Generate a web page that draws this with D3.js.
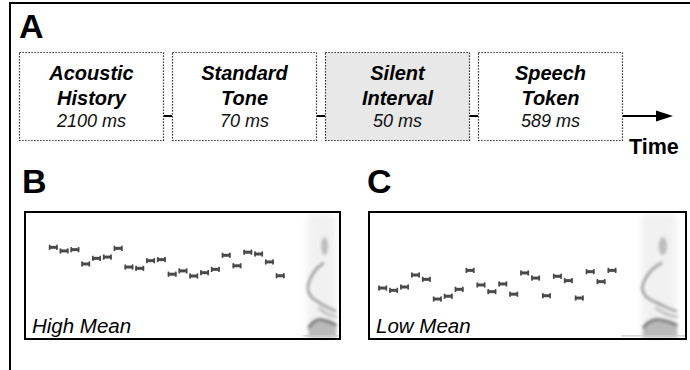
<!DOCTYPE html>
<html><head><meta charset="utf-8">
<script src="https://cdn.jsdelivr.net/npm/d3@7"></script>
<style>body{margin:0;background:#fff}svg{display:block;font-family:Arial,"Liberation Sans",Helvetica,sans-serif}</style>
</head><body><svg id="c" width="690" height="370"></svg>
<script>
// ---------- data ----------
const stageLine1 = ["Acoustic","Standard","Silent","Speech"];
const stageLine2 = ["History","Tone","Interval","Token"];
const stageDurationsMs = [2100, 70, 50, 589];
const silentStage = "Silent";
const panelLabels = ["A", "B", "C"];
const conditionNames = ["High Mean", "Low Mean"];
const toneOnsetsMs = [0,100,200,300,400,500,600,700,800,900,1000,1100,1200,1300,1400,1500,1600,1700,1800,1900,2000,2100];
const highMeanHz = [3600,3460,3510,2950,3170,3220,3560,2830,2780,3080,3120,2550,2680,2480,2610,2740,3290,2880,3410,3340,3030,2490];
const lowMeanHz  = [2010,1920,2050,2520,2350,1580,1690,1960,2700,2130,1870,2170,1770,2600,2400,1710,2470,2300,1620,2650,2260,2700];
// speech token (normalised time 0..1, frequency Hz)
const formantHigh = [[0.58,3000],[0.34,2760],[0.15,2400],[0.06,2000],[0.16,1680],[0.42,1450],[0.7,1250],[0.97,1100]];
const formantMid  = [[0.4,1250],[0.62,1050],[0.85,920],[1.0,880]];
const formantLow  = [[0.08,450],[0.25,690],[0.45,780],[0.7,710],[0.98,560]];
const burstTop    = [[0.6,3650]];

// ---------- layout ----------
const svg = d3.select("#c");
const defs = svg.append("defs");
function blur(id, sd){
  defs.append("filter").attr("id",id).attr("x","-50%").attr("y","-50%").attr("width","200%").attr("height","200%")
    .append("feGaussianBlur").attr("stdDeviation",sd);
}
blur("blur",1.5); blur("blur2",3); blur("soft",0.4);

// outer frame
svg.append("path").attr("d","M10,370V3H690").attr("fill","none").attr("stroke","#000").attr("stroke-width",2);

// panel letters
const letterPos = [[19,38],[22,193],[367,193]];
svg.selectAll("text.letter").data(panelLabels).join("text").attr("class","letter")
  .attr("x",(d,i)=>letterPos[i][0]).attr("y",(d,i)=>letterPos[i][1])
  .attr("font-size",34).attr("font-weight","bold").text(d=>d);

// ---------- panel A: trial structure ----------
const xStage = d3.scaleBand().domain(stageLine1).range([18,623]).paddingInner(0.055).round(true);
const boxTop = 52.5, boxBot = 140.5, connY = 116;
const gStage = svg.selectAll("g.stage").data(stageLine1).join("g").attr("class","stage")
  .attr("transform",d=>`translate(${xStage(d)},0)`);
gStage.append("rect").attr("x",0.5).attr("y",boxTop).attr("width",xStage.bandwidth()-1).attr("height",boxBot-boxTop)
  .attr("fill",d=>d===silentStage?"#e8e8e8":"#fff")
  .attr("stroke","#000").attr("stroke-width",1.2).attr("stroke-dasharray","1.2,1.8");
const cx = xStage.bandwidth()/2;
gStage.append("text").attr("x",cx).attr("y",80).attr("text-anchor","middle")
  .attr("font-size",20).attr("font-weight","bold").attr("font-style","italic").text(d=>d);
gStage.append("text").attr("x",cx).attr("y",105).attr("text-anchor","middle")
  .attr("font-size",20).attr("font-weight","bold").attr("font-style","italic").text((d,i)=>stageLine2[i]);
gStage.append("text").attr("x",cx).attr("y",127).attr("text-anchor","middle")
  .attr("font-size",18).attr("font-style","italic").attr("fill","#111").text((d,i)=>stageDurationsMs[i]+" ms");
// connectors
svg.selectAll("line.conn").data(stageLine1.slice(1)).join("line").attr("class","conn")
  .attr("x1",(d,i)=>xStage(stageLine1[i])+xStage.bandwidth()).attr("x2",d=>xStage(d))
  .attr("y1",connY).attr("y2",connY).attr("stroke","#000").attr("stroke-width",2);
// time arrow
const last = stageLine1[stageLine1.length-1];
const ax0 = xStage(last)+xStage.bandwidth(), ax1 = 673;
svg.append("line").attr("x1",ax0).attr("x2",ax1-12).attr("y1",connY).attr("y2",connY).attr("stroke","#000").attr("stroke-width",2);
svg.append("path").attr("d",`M${ax1-17},${connY-5.5}L${ax1},${connY}L${ax1-17},${connY+5.5}Z`).attr("fill","#000");
svg.append("text").attr("x",629).attr("y",154).attr("font-size",21.5).attr("font-weight","bold").text("Time");

// ---------- panels B & C ----------
const panels = [
  {name:conditionNames[0], hz:highMeanHz, x0:25, x1:340, t0:53.3, t1:280.2, s0:306, s1:337, base0:303},
  {name:conditionNames[1], hz:lowMeanHz,  x0:369, x1:686, t0:382.7, t1:612, s0:640, s1:678, base0:621}
];
const pTop = 212, pBot = 339;
const yHz = d3.scaleLinear().domain([0,5000]).range([339.5,211.5]);

panels.forEach((p,pi)=>{
  const g = svg.append("g");
  const clipId = "clip"+pi;
  defs.append("clipPath").attr("id",clipId).append("rect")
    .attr("x",p.x0+1).attr("y",pTop+1).attr("width",p.x1-p.x0-2).attr("height",pBot-pTop-2);
  const inner = g.append("g").attr("clip-path",`url(#${clipId})`);

  // speech token spectrogram
  const xs = d3.scaleLinear().domain([0,1]).range([p.s0,p.s1]);
  const sg = inner.append("g");
  sg.append("rect").attr("x",xs(0.03)).attr("y",yHz(4900)).attr("width",xs(0.97)-xs(0.03)).attr("height",yHz(0)-yHz(4900))
    .attr("fill","#000").attr("opacity",0.05).attr("filter","url(#blur2)");
  sg.append("line").attr("x1",xs(0.12)).attr("x2",xs(0.12)).attr("y1",yHz(4800)).attr("y2",yHz(100))
    .attr("stroke","#999").attr("stroke-width",3).attr("opacity",0.3).attr("filter","url(#blur)");
  sg.append("line").attr("x1",xs(0.62)).attr("x2",xs(0.62)).attr("y1",yHz(4700)).attr("y2",yHz(2900))
    .attr("stroke","#aaa").attr("stroke-width",5).attr("opacity",0.35).attr("filter","url(#blur)");
  sg.selectAll("ellipse").data(burstTop).join("ellipse")
    .attr("cx",d=>xs(d[0])).attr("cy",d=>yHz(d[1])).attr("rx",(xs(1)-xs(0))*0.11).attr("ry",9)
    .attr("fill","#888").attr("opacity",0.5).attr("filter","url(#blur)");
  const line = d3.line().x(d=>xs(d[0])).y(d=>yHz(d[1])).curve(d3.curveCatmullRom);
  sg.append("path").attr("d",line(formantHigh)).attr("fill","none").attr("stroke","#666").attr("stroke-width",2.4)
    .attr("opacity",0.65).attr("filter","url(#blur)");
  sg.append("path").attr("d",line(formantMid)).attr("fill","none").attr("stroke","#888").attr("stroke-width",3)
    .attr("opacity",0.45).attr("filter","url(#blur)");
  const area = d3.area().x(d=>xs(d[0])).y0(yHz(80)).y1(d=>yHz(d[1])).curve(d3.curveCatmullRom);
  sg.append("path").attr("d",area(formantLow)).attr("fill","#777").attr("opacity",0.45).attr("filter","url(#blur)");
  sg.append("path").attr("d",line(formantLow)).attr("fill","none").attr("stroke","#444").attr("stroke-width",2.6)
    .attr("opacity",0.7).attr("filter","url(#blur)");
  inner.append("line").attr("x1",p.base0).attr("x2",p.x1).attr("y1",yHz(140)).attr("y2",yHz(140))
    .attr("stroke","#ccc").attr("stroke-width",1.2);

  // tones
  const xt = d3.scaleLinear().domain([toneOnsetsMs[0],toneOnsetsMs[toneOnsetsMs.length-1]]).range([p.t0,p.t1]);
  const tg = inner.selectAll("g.tone").data(p.hz).join("g").attr("class","tone")
    .attr("transform",(d,i)=>`translate(${xt(toneOnsetsMs[i])},${yHz(d)})`).attr("filter","url(#soft)");
  tg.append("rect").attr("x",-4.2).attr("y",-1.5).attr("width",8.4).attr("height",3).attr("fill","#4a4a4a");
  tg.append("rect").attr("x",-4.5).attr("y",-2.6).attr("width",1.7).attr("height",5.2).attr("fill","#4a4a4a");
  tg.append("rect").attr("x",2.8).attr("y",-2.6).attr("width",1.7).attr("height",5.2).attr("fill","#4a4a4a");

  // border & label
  g.append("rect").attr("x",p.x0).attr("y",pTop).attr("width",p.x1-p.x0).attr("height",pBot-pTop)
    .attr("fill","none").attr("stroke","#000").attr("stroke-width",2);
  g.append("text").attr("x",p.x0+7).attr("y",333).attr("font-size",20.5).attr("font-style","italic").text(p.name);
});
</script></body></html>
